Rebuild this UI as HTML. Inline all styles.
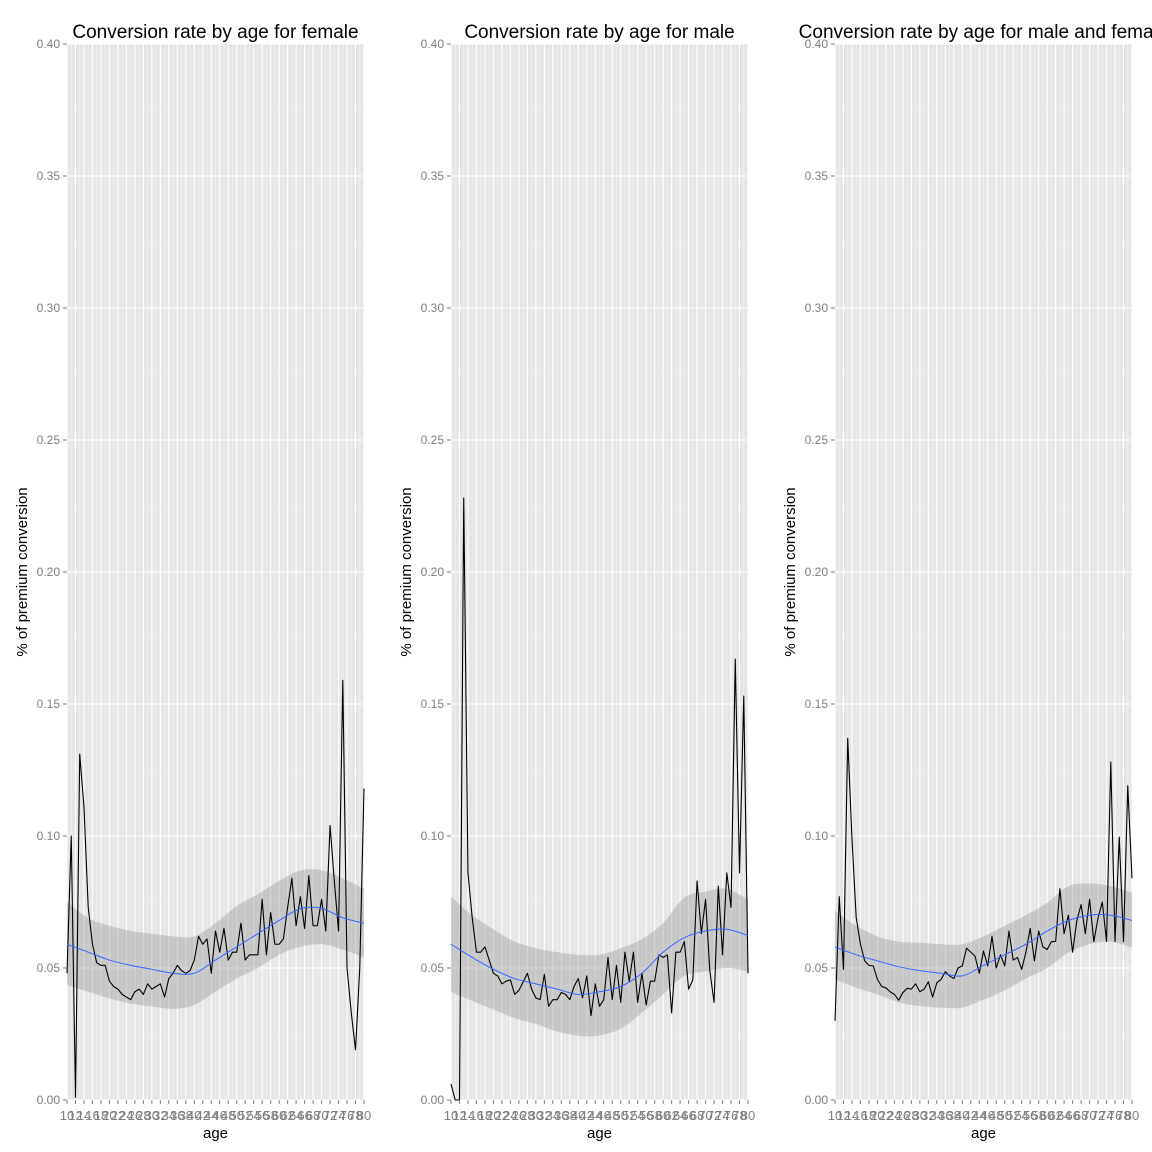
<!DOCTYPE html>
<html><head><meta charset="utf-8"><style>
html,body{margin:0;padding:0;background:#fff;width:1152px;height:1152px;overflow:hidden}
svg{display:block}
</style></head><body>
<svg id="chart" width="1152" height="1152" xmlns="http://www.w3.org/2000/svg" font-family="Liberation Sans, Arial, sans-serif"></svg>
<script>
const ages = [];
for (let a = 10; a <= 80; a++) ages.push(a);
const yTicks = [0, 0.05, 0.10, 0.15, 0.20, 0.25, 0.30, 0.35, 0.40];
const yTickLabels = ["0.00","0.05","0.10","0.15","0.20","0.25","0.30","0.35","0.40"];
const xTickAges = [10,12,14,16,18,20,22,24,26,28,30,32,34,36,38,40,42,44,46,48,50,52,54,56,58,60,62,64,66,68,70,72,74,76,78,80];
const smoothAges = [10,15,20,25,30,35,40,45,50,55,60,65,70,75,80];
const panelTitles = ["Conversion rate by age for female","Conversion rate by age for male","Conversion rate by age for male and female"];

const femaleRate = [0.048,0.100,0.001,0.131,0.111,0.073,0.059,0.052,0.051,0.051,0.045,0.043,0.042,0.040,0.039,0.038,0.041,0.042,0.040,0.044,0.042,0.043,0.044,0.039,0.046,0.048,0.051,0.049,0.048,0.049,0.053,0.062,0.059,0.061,0.048,0.064,0.056,0.065,0.053,0.056,0.056,0.067,0.053,0.055,0.055,0.055,0.076,0.055,0.071,0.059,0.059,0.061,0.073,0.084,0.066,0.077,0.065,0.085,0.066,0.066,0.076,0.064,0.104,0.083,0.064,0.159,0.050,0.033,0.019,0.050,0.118];
const maleRate = [0.006,0.000,0.000,0.228,0.086,0.069,0.056,0.056,0.058,0.053,0.048,0.047,0.044,0.045,0.0455,0.040,0.0415,0.0447,0.048,0.042,0.0387,0.038,0.0476,0.0355,0.038,0.038,0.0407,0.040,0.038,0.043,0.046,0.0387,0.047,0.032,0.044,0.0355,0.038,0.054,0.038,0.051,0.037,0.056,0.045,0.056,0.037,0.048,0.036,0.045,0.045,0.055,0.054,0.055,0.033,0.056,0.056,0.060,0.042,0.0455,0.083,0.063,0.076,0.049,0.037,0.081,0.055,0.086,0.073,0.167,0.086,0.153,0.048];
const allRate = [0.030,0.077,0.0495,0.137,0.099,0.069,0.059,0.0527,0.051,0.0508,0.0457,0.043,0.0425,0.041,0.040,0.0378,0.0407,0.0423,0.042,0.044,0.041,0.042,0.0448,0.039,0.0444,0.0457,0.0486,0.047,0.046,0.050,0.0508,0.0575,0.056,0.0545,0.048,0.0564,0.0508,0.062,0.050,0.055,0.0508,0.064,0.053,0.054,0.0495,0.056,0.065,0.0527,0.064,0.058,0.057,0.060,0.060,0.080,0.063,0.070,0.056,0.068,0.074,0.063,0.076,0.060,0.069,0.075,0.060,0.128,0.060,0.0996,0.060,0.119,0.084];

const femaleFit = [0.059,0.056,0.053,0.051,0.0495,0.048,0.048,0.053,0.058,0.063,0.068,0.0725,0.0726,0.069,0.067];
const femaleUpper = [0.075,0.069,0.066,0.064,0.063,0.062,0.062,0.067,0.0735,0.078,0.083,0.087,0.087,0.084,0.080];
const femaleLower = [0.0436,0.041,0.0385,0.0365,0.0354,0.0345,0.036,0.041,0.046,0.050,0.055,0.058,0.059,0.057,0.054];
const maleFit = [0.059,0.054,0.0495,0.046,0.044,0.042,0.040,0.041,0.043,0.048,0.056,0.0615,0.064,0.0647,0.0623];
const maleUpper = [0.077,0.070,0.0647,0.060,0.0575,0.056,0.055,0.055,0.0575,0.061,0.067,0.0767,0.079,0.080,0.0759];
const maleLower = [0.041,0.0375,0.0343,0.031,0.0288,0.026,0.0243,0.0245,0.027,0.033,0.040,0.047,0.0487,0.050,0.0487];
const allFit = [0.058,0.055,0.0527,0.0505,0.049,0.048,0.047,0.051,0.055,0.059,0.064,0.068,0.070,0.070,0.068];
const allUpper = [0.0716,0.066,0.062,0.060,0.0596,0.059,0.059,0.062,0.066,0.070,0.0747,0.081,0.082,0.081,0.0785];
const allLower = [0.0457,0.0425,0.040,0.037,0.0356,0.035,0.035,0.038,0.0415,0.046,0.050,0.0558,0.059,0.060,0.0577];

const NS = "http://www.w3.org/2000/svg";
const svg = document.getElementById('chart');
function mk(tag, attrs, parent){const e=document.createElementNS(NS,tag);for(const k in attrs)e.setAttribute(k,attrs[k]);(parent||svg).appendChild(e);return e;}

const panels = [
 {x0:67, rate:femaleRate, fit:femaleFit, up:femaleUpper, lo:femaleLower, key:'female'},
 {x0:451, rate:maleRate, fit:maleFit, up:maleUpper, lo:maleLower, key:'male'},
 {x0:835, rate:allRate, fit:allFit, up:allUpper, lo:allLower, key:'all'}
];
const W = 297, TOP = 44, BOT = 1100;

function smoothPath(pts){
  let d = "M"+pts[0][0]+","+pts[0][1];
  for(let i=0;i<pts.length-1;i++){
    const p0=pts[Math.max(0,i-1)],p1=pts[i],p2=pts[i+1],p3=pts[Math.min(pts.length-1,i+2)];
    const c1=[p1[0]+(p2[0]-p0[0])/6,p1[1]+(p2[1]-p0[1])/6];
    const c2=[p2[0]-(p3[0]-p1[0])/6,p2[1]-(p3[1]-p1[1])/6];
    d+=" C"+c1[0]+","+c1[1]+" "+c2[0]+","+c2[1]+" "+p2[0]+","+p2[1];
  }
  return d;
}

panels.forEach((p, pi) => {
  const xs = a => p.x0 + (a - 10) / 70 * W;
  const ys = v => BOT - v / 0.40 * (BOT - TOP);
  const g = mk('g', {});
  
  
  const bg = mk('rect', {x:p.x0, y:TOP, width:W, height:BOT-TOP, fill:'#e5e5e5'}, g);
  
  
  for (let v = 0.025; v < 0.40; v += 0.05) mk('line',{x1:p.x0,x2:p.x0+W,y1:ys(v),y2:ys(v),stroke:'#f2f2f2','stroke-width':0.6},g);
  ages.forEach(a => { if (a % 2 === 1) mk('line',{x1:xs(a),x2:xs(a),y1:TOP,y2:BOT,stroke:'#f2f2f2','stroke-width':0.6},g); });
  yTicks.forEach(v => mk('line',{x1:p.x0,x2:p.x0+W,y1:ys(v),y2:ys(v),stroke:'#ffffff','stroke-width':1.1},g));
  xTickAges.forEach(a => mk('line',{x1:xs(a),x2:xs(a),y1:TOP,y2:BOT,stroke:'#ffffff','stroke-width':1.1},g));
  const upPts = smoothAges.map((a,i)=>[xs(a),ys(p.up[i])]);
  const loPts = smoothAges.map((a,i)=>[xs(a),ys(p.lo[i])]).reverse();
  const bandD = smoothPath(upPts) + " L" + smoothPath(loPts).slice(1) + " Z";
  const band = mk('path',{d:bandD, fill:'#999999','fill-opacity':0.4, stroke:'none'},g);
  
  
  const ld = p.rate.map((v,i)=>(i?'L':'M')+xs(ages[i]).toFixed(2)+','+ys(v).toFixed(2)).join(' ');
  const line = mk('path',{d:ld, fill:'none', stroke:'#000', 'stroke-width':1.1, 'stroke-linejoin':'round'},g);
  
  
  const fit = mk('path',{d:smoothPath(smoothAges.map((a,i)=>[xs(a),ys(p.fit[i])])), fill:'none', stroke:'#3366ff','stroke-width':1},g);
  
  
  yTicks.forEach((v,i) => {
    mk('line',{x1:p.x0-4,x2:p.x0,y1:ys(v),y2:ys(v),stroke:'#7f7f7f','stroke-width':1},g);
    const t = mk('text',{x:p.x0-7,y:ys(v)+4,'text-anchor':'end','font-size':12,fill:'#7f7f7f'},g);
    t.textContent = yTickLabels[i];
    
    
  });
  xTickAges.forEach(a => {
    mk('line',{x1:xs(a),x2:xs(a),y1:BOT,y2:BOT+4,stroke:'#7f7f7f','stroke-width':1},g);
    const t = mk('text',{x:xs(a),y:BOT+20,'text-anchor':'middle','font-size':13,fill:'#7f7f7f'},g);
    t.textContent = String(a);
    
    
  });
  const xt = mk('text',{x:p.x0+W/2,y:1138,'text-anchor':'middle','font-size':15,fill:'#000'},g);
  xt.textContent = 'age';
  
  
  const yt = mk('text',{x:0,y:0,'text-anchor':'middle','font-size':15,fill:'#000',transform:'translate('+(p.x0-40)+',572) rotate(-90)'},g);
  yt.textContent = '% of premium conversion';
  
  
  const tt = mk('text',{x:p.x0+W/2,y:38,'text-anchor':'middle','font-size':19,fill:'#000'},g);
  tt.textContent = panelTitles[pi];
  
  
});
</script>
</body></html>
